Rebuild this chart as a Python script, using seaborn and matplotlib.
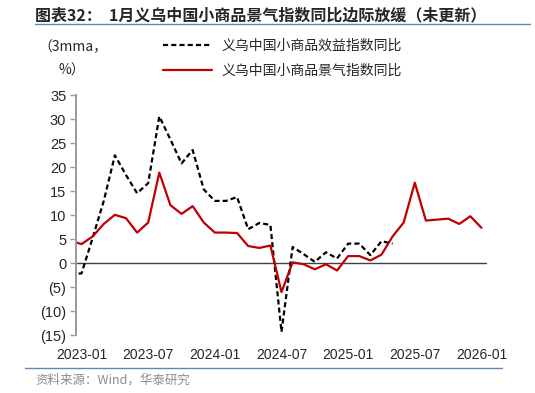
import matplotlib
matplotlib.use("Agg")
import matplotlib.pyplot as plt
import seaborn as sns
import pandas as pd
import numpy as np
from matplotlib.lines import Line2D
from matplotlib.ticker import FuncFormatter

# months 2022-12 .. 2026-01 (index 0 = 2023-01)
months = pd.date_range("2022-12-01", "2026-01-01", freq="MS").strftime("%Y-%m").tolist()

# 义乌中国小商品景气指数同比 (3mma, %)
jingqi = [4.7, 4.0, 5.6, 8.2, 10.1, 9.4, 6.4, 8.5, 18.9, 12.1, 10.3, 11.9, 8.5,
          6.4, 6.4, 6.3, 3.6, 3.2, 3.7, -6.0, 0.2, -0.2, -1.25, -0.2, -1.5,
          1.5, 1.5, 0.6, 1.8, 5.6, 8.5, 16.8, 8.9, 9.1, 9.3, 8.2, 9.8, 7.4]

# 义乌中国小商品效益指数同比 (3mma, %) - stops at 2025-05
xiaoyi = [-2.3, -2.1, 5.3, 13.0, 22.5, 18.4, 14.6, 16.7, 30.6, 25.8, 20.8, 23.6,
          15.4, 13.0, 13.0, 13.8, 7.1, 8.4, 8.0, -14.3, 3.4, 1.9, 0.3, 2.3, 1.0,
          4.1, 4.1, 1.7, 4.6, 4.1]

tick_labels = ["2023-01", "2023-07", "2024-01", "2024-07", "2025-01", "2025-07", "2026-01"]

label_xy = "义乌中国小商品效益指数同比"
label_jq = "义乌中国小商品景气指数同比"

df = pd.DataFrame({"month": months, "jingqi": jingqi})
df["xiaoyi"] = xiaoyi + [np.nan] * (len(months) - len(xiaoyi))
df["i"] = np.arange(len(df)) - 1

sns.set_style("white")
plt.rcParams["font.family"] = ["Liberation Sans", "Noto Sans CJK SC", "DejaVu Sans"]
cjk = ["Noto Sans CJK SC", "Liberation Sans", "DejaVu Sans"]

W, H = 535, 393
fig = plt.figure(figsize=(W / 100, H / 100), dpi=100)
ax = fig.add_axes([76 / W, 1 - 335.3 / H, (487 - 76) / W, (335.3 - 95.3) / H])

red = "#C00000"
sns.lineplot(data=df, x="i", y="xiaoyi", ax=ax, color="black", linewidth=1.6,
             label=label_xy)
ax.lines[-1].set_dashes([2.3, 1.4])
sns.lineplot(data=df, x="i", y="jingqi", ax=ax, color=red, linewidth=1.6,
             label=label_jq)

ax.axhline(0, color="#404040", linewidth=1.0, zorder=1)

ax.set_xlim(-0.5, 36.5)
ax.set_ylim(-15, 35)
ax.set_yticks(range(-15, 36, 5))
ax.yaxis.set_major_formatter(FuncFormatter(lambda v, p: f"({abs(int(v))})" if v < 0 else f"{int(v)}"))
ax.set_xticks(range(0, 37, 6))
ax.set_xticklabels(tick_labels)
ax.set_xlabel("")
ax.set_ylabel("")

for s in ["top", "right", "bottom"]:
    ax.spines[s].set_visible(False)
ax.spines["left"].set_color("#9a9a9a")
ax.spines["left"].set_linewidth(1.4)
ax.tick_params(axis="y", direction="out", length=4, width=1, color="#9a9a9a",
               labelsize=10.5, pad=3, left=True)
ax.tick_params(axis="x", length=0, labelsize=10, pad=9)

leg = ax.legend(loc="upper left", bbox_to_anchor=(163 / W, 1 - 39 / H),
                bbox_transform=fig.transFigure, frameon=False, borderpad=0,
                borderaxespad=0, handlelength=3.5, handletextpad=0.7,
                labelspacing=0.75, prop={"family": cjk, "size": 10})

# unit label
fig.text(73 / W, 1 - 47 / H, "（3mma，", ha="center", va="center", fontsize=10, family=cjk)
fig.text(72 / W, 1 - 71 / H, "%）", ha="center", va="center", fontsize=10, family=cjk)

# title and rules
fig.text(35 / W, 1 - 15 / H, "图表32：  1月义乌中国小商品景气指数同比边际放缓（未更新）",
         ha="left", va="center", fontsize=11.5, fontweight="bold", family=cjk)
rule = "#5b87c0"
fig.add_artist(Line2D([35 / W, 530 / W], [1 - 24 / H, 1 - 24 / H], color=rule, linewidth=1.0))
fig.add_artist(Line2D([25 / W, 502 / W], [1 - 368 / H, 1 - 368 / H], color=rule, linewidth=1.0))
fig.text(35 / W, 1 - 380 / H, "资料来源：Wind，华泰研究", ha="left", va="center",
         fontsize=9, color="#8c8c8c", family=cjk)

fig.savefig("out.png", dpi=100)
